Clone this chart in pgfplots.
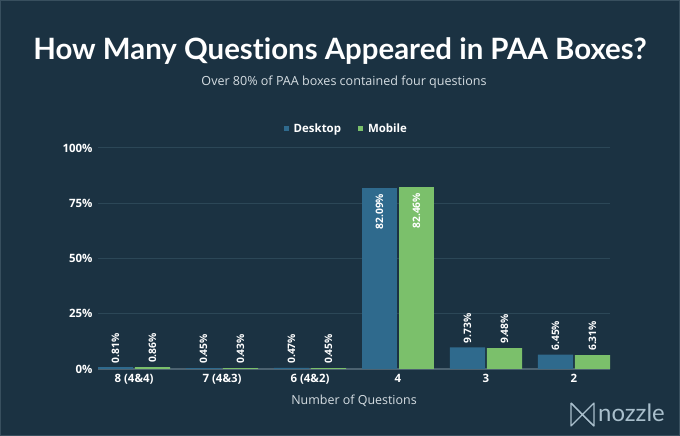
\documentclass[border=0pt]{standalone}
\usepackage{pgfplots}
\pgfplotsset{compat=1.18}
\usepackage{fontspec}
\setmainfont{Open Sans}
\newfontfamily\titlefont[Ligatures=NoCommon]{Lato}
\definecolor{bg}{HTML}{1B3242}
\definecolor{desk}{HTML}{2F6A8D}
\definecolor{mob}{HTML}{7BC06B}
\definecolor{gridc}{HTML}{2C4757}
\definecolor{axc}{HTML}{4C6270}
\definecolor{txt}{HTML}{D5DDE2}
\definecolor{logoc}{HTML}{A9BFCC}
\begin{document}
\begin{tikzpicture}[x=1bp,y=1bp]
\fill[bg] (0,0) rectangle (680,436);
\useasboundingbox (0,0) rectangle (680,436);
\draw[axc!60!bg, line width=1bp] (0.5,0.5) rectangle (679.5,435.5);
\node[anchor=base, white, font=\titlefont\bfseries\fontsize{29.5}{34}\selectfont] at (340,376) {How Many Questions Appeared in PAA Boxes?};
\node[anchor=base, txt, font=\fontsize{12.6}{15}\selectfont] at (344,350) {Over 80\% of PAA boxes contained four questions};
% logo
\begin{scope}[logoc, line width=1.1bp, line join=round]
\draw (571,33) -- (571,10) -- (594,33) -- (594,10) -- (571,33);
\draw (571,33) .. controls (580,24) and (585,18) .. (594,10);
\end{scope}
\node[anchor=base west, logoc, font=\titlefont\fontsize{24}{26}\selectfont, inner sep=0] at (598,14) {nozzle};
\begin{axis}[
  at={(98bp,67bp)}, anchor=south west,
  scale only axis, width=512bp, height=221bp,
  xmin=-0.41, xmax=5.41, ymin=0, ymax=100,
  /pgf/number format/assume math mode=true,
  axis line style={draw=none},
  ytick={25,50,75,100},
  extra y ticks={0},
  extra y tick style={grid style={axc, line width=1.6bp}},
  yticklabel={\pgfmathprintnumber{\tick}\%},
  xtick={0,...,5},
  xticklabels={8 (4\&4),7 (4\&3),6 (4\&2),4,3,2},
  ymajorgrids,
  grid style={gridc, line width=1bp},
  major tick length=0pt,
  tick label style={white, font=\bfseries\fontsize{11.5}{13}\selectfont},
  yticklabel style={xshift=-2bp},
  xticklabel style={yshift=-2bp},
  xlabel={Number of Questions},
  xlabel style={txt, font=\fontsize{12.5}{14}\selectfont, yshift=-4bp},
  legend style={at={(0.488,1.086)}, anchor=center, draw=none, fill=none,
    legend columns=2, text=white, font=\bfseries\fontsize{11.5}{13}\selectfont,
    /tikz/every even column/.append style={column sep=12bp},
    nodes={inner xsep=5bp}},
  legend image code/.code={\fill (0bp,-2.5bp) rectangle (5bp,2.5bp);},
  every node near coord/.append style={rotate=90, white, font=\bfseries\fontsize{10.3}{12}\selectfont},
  nodes near coords={\pgfmathprintnumber[fixed,precision=2,fixed zerofill]{\pgfplotspointmeta}\%},
]
% Desktop bars sit at category - 0.21, Mobile bars at category + 0.21
\addplot[ybar, bar width=0.4, bar shift=0, fill=desk, draw=none,
  nodes near coords style={anchor=west, inner sep=4bp}]
  coordinates {(-0.21,0.81) (0.79,0.45) (1.79,0.47) (3.79,9.73) (4.79,6.45)};
\addlegendentry{Desktop}
\addplot[ybar, bar width=0.4, bar shift=0, fill=desk, draw=none, forget plot,
  nodes near coords style={anchor=east, inner sep=6bp}]
  coordinates {(2.79,82.09)};
\addplot[ybar, bar width=0.4, bar shift=0, fill=mob, draw=none,
  nodes near coords style={anchor=west, inner sep=4bp}]
  coordinates {(0.21,0.86) (1.21,0.43) (2.21,0.45) (4.21,9.48) (5.21,6.31)};
\addlegendentry{Mobile}
\addplot[ybar, bar width=0.4, bar shift=0, fill=mob, draw=none, forget plot,
  nodes near coords style={anchor=east, inner sep=6bp}]
  coordinates {(3.21,82.46)};
\end{axis}
\end{tikzpicture}
\end{document}
